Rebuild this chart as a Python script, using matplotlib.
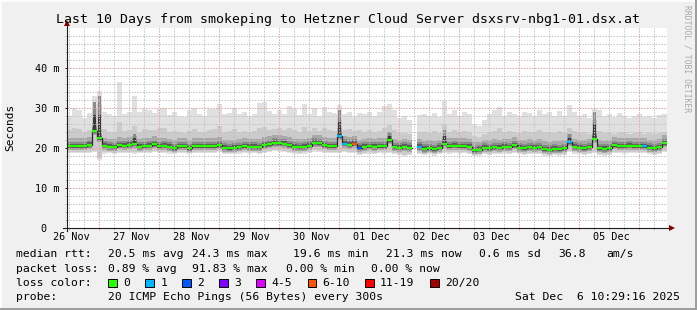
import numpy as np
import matplotlib
matplotlib.use("Agg")
import matplotlib.pyplot as plt
from matplotlib.patches import Rectangle
from matplotlib.lines import Line2D

W, H = 697, 310
MONO = "DejaVu Sans Mono"

title = "Last 10 Days from smokeping to Hetzner Cloud Server dsxsrv-nbg1-01.dsx.at"
y_label = "Seconds"
watermark = "RRDTOOL / TOBI OETIKER"

day_labels = ["26 Nov", "27 Nov", "28 Nov", "29 Nov", "30 Nov",
              "01 Dec", "02 Dec", "03 Dec", "04 Dec", "05 Dec"]
first_midnight_h = 12.9          # hours after graph start
y_ticks = [0, 10, 20, 30, 40]
y_tick_labels = ["0  ", "10 m", "20 m", "30 m", "40 m"]

BIN_H = 2.0   # hours per consolidated step

# median RTT (ms) per 2-hour step
median = [20.6, 20.5, 20.5, 20.6, 20.9, 24.3, 22.5, 20.7, 20.4, 20.3,
          20.8, 20.7, 20.9, 21.2, 20.4, 20.5, 20.7, 21.0, 20.6, 20.7,
          20.4, 20.1, 20.6, 20.6, 20.0, 20.6, 20.6, 20.5, 20.6, 20.6,
          20.8, 20.2, 20.1, 20.2, 20.3, 20.6, 20.4, 20.4, 20.3, 20.8,
          21.0, 21.4, 21.3, 21.2, 20.8, 20.4, 20.3, 20.4, 20.7, 21.4,
          21.3, 20.8, 20.6, 20.6, 23.1, 21.2, 20.9, 21.2, 20.2, 20.4,
          20.5, 20.4, 20.6, 20.6, 22.0, 20.3, 20.2, 20.4, 20.2, np.nan,
          20.4, 19.9, 20.1, 19.8, 20.2, 21.2, 20.6, 20.7, 20.5, 20.6,
          20.4, 19.6, 19.7, 20.2, 20.1, 20.3, 20.2, 20.4, 20.3, 20.8,
          20.2, 20.1, 20.3, 20.2, 20.3, 19.8, 19.7, 19.9, 19.8, 20.1,
          21.6, 20.4, 20.2, 20.1, 20.3, 22.4, 20.0, 19.9, 20.1, 20.8,
          20.6, 20.6, 20.7, 20.6, 20.6, 20.6, 20.2, 20.1, 20.3, 21.3]

# highest ping of each step (top of light smoke)
rtt_max = [28.1, 30.0, 29.5, 27.5, 28.7, 33.0, 34.2, 29.2, 28.5, 28.0,
           36.5, 28.5, 29.0, 33.0, 29.0, 29.8, 29.5, 28.8, 29.9, 30.0,
           28.3, 29.0, 28.2, 27.8, 29.5, 30.0, 28.6, 28.0, 29.7, 29.8,
           31.0, 28.6, 28.8, 30.0, 28.5, 29.0, 28.2, 28.6, 31.2, 31.5,
           29.2, 28.7, 29.5, 28.5, 30.5, 29.8, 28.2, 31.2, 28.5, 30.0,
           28.0, 30.2, 29.2, 28.8, 30.8, 28.5, 29.0, 28.0, 28.9, 28.5,
           29.2, 28.0, 29.0, 30.5, 31.0, 29.5, 27.5, 28.0, 27.0, np.nan,
           28.2, 28.5, 28.0, 28.8, 27.8, 31.7, 28.5, 29.5, 28.0, 29.0,
           28.5, 26.0, 25.5, 27.0, 28.5, 29.5, 30.4, 28.0, 29.0, 28.5,
           28.0, 29.0, 28.8, 28.2, 29.5, 28.5, 29.0, 28.2, 29.3, 28.0,
           30.8, 29.0, 28.0, 28.5, 27.5, 29.8, 29.5, 28.0, 28.5, 27.8,
           28.8, 28.2, 27.5, 28.0, 28.5, 27.8, 28.2, 27.5, 28.3, 28.7]

# upper edge of the denser (medium) smoke
rtt_upper = [24.5, 25.0, 24.8, 24.0, 24.5, 30.0, 31.0, 24.8, 24.2, 24.0,
             26.5, 24.3, 24.6, 25.5, 24.2, 24.8, 24.5, 24.6, 25.0, 25.2,
             24.0, 24.3, 24.2, 23.8, 24.4, 24.8, 24.2, 24.0, 24.6, 24.8,
             25.5, 24.2, 24.4, 24.8, 24.0, 24.3, 24.1, 24.4, 25.2, 25.4,
             24.6, 24.8, 25.0, 24.5, 25.2, 24.6, 24.2, 25.3, 24.4, 25.0,
             24.3, 25.0, 24.6, 24.4, 27.5, 24.6, 24.8, 24.3, 24.5, 24.2,
             24.5, 24.0, 24.4, 25.0, 25.8, 24.6, 23.8, 23.9, 23.5, np.nan,
             24.0, 24.2, 23.8, 24.3, 23.8, 26.0, 24.2, 24.6, 24.0, 24.4,
             24.2, 23.0, 22.8, 23.6, 24.0, 24.4, 25.0, 24.0, 24.3, 24.2,
             23.8, 24.3, 24.2, 24.0, 24.5, 24.0, 24.2, 23.8, 24.4, 24.0,
             25.2, 24.3, 23.9, 24.0, 23.6, 27.0, 24.4, 23.8, 24.0, 23.6,
             24.2, 24.0, 23.6, 23.8, 24.0, 23.6, 23.9, 23.5, 23.8, 24.2]

# lowest ping of each step (bottom of smoke)
rtt_min = [18.9, 18.8, 18.9, 18.8, 18.9, 19.0, 17.2, 18.7, 18.8, 18.6,
           18.9, 18.8, 18.9, 18.7, 18.8, 18.9, 18.9, 19.0, 18.8, 18.9,
           18.7, 18.6, 18.8, 18.9, 18.5, 18.8, 18.9, 18.8, 18.9, 18.8,
           19.0, 18.6, 18.5, 18.6, 18.7, 18.8, 18.7, 18.8, 18.6, 18.9,
           19.1, 19.3, 19.2, 19.0, 18.9, 18.7, 18.6, 18.7, 18.9, 19.2,
           19.1, 18.9, 18.8, 18.8, 18.9, 19.0, 18.9, 18.8, 18.4, 18.5,
           18.7, 18.6, 18.8, 18.7, 18.9, 18.5, 18.4, 18.0, 18.4, np.nan,
           18.6, 18.3, 18.5, 18.2, 18.5, 18.9, 18.7, 18.8, 18.7, 18.8,
           18.6, 18.1, 18.2, 18.5, 18.4, 18.6, 18.5, 18.7, 18.6, 18.9,
           18.5, 18.4, 18.6, 18.5, 18.6, 18.2, 18.1, 18.3, 18.2, 18.4,
           19.0, 18.7, 18.5, 18.4, 18.6, 18.8, 18.3, 18.2, 18.4, 18.9,
           18.8, 18.7, 18.9, 18.8, 18.8, 18.8, 18.5, 18.4, 18.6, 19.0]

# steps where the dense core of the smoke shoots up (index, top in ms)
burst_steps = [5, 6, 13, 54, 64, 75, 100, 105]
burst_tops = [31.5, 33.0, 23.5, 29.5, 24.0, 24.5, 23.5, 29.0]

# lost pings (of 20) per step
lost = [0] * 120
for i, n in zip([54, 55, 57, 58, 70, 100, 115], [1, 1, 7, 2, 1, 1, 1]):
    lost[i] = n

loss_labels = ["0", "1", "2", "3", "4-5", "6-10", "11-19", "20/20"]
loss_colors = ["#26ff00", "#00b8ff", "#0059ff", "#7e00ff",
               "#dd00ff", "#ff5500", "#ff0000", "#a10000"]
loss_upper = [0, 1, 2, 3, 5, 10, 19, 20]

legend_rows = [
    ["median rtt:", "20.5 ms avg", "24.3 ms max", "19.6 ms min",
     "21.3 ms now", "0.6 ms sd", "36.8", "am/s"],
    ["packet loss:", "0.89 % avg", "91.83 % max", "0.00 % min", "0.00 % now"],
]
probe_text = "20 ICMP Echo Pings (56 Bytes) every 300s"
stamp_text = "Sat Dec  6 10:29:16 2025"

# ---------------------------------------------------------------------------
BACK = "#f0f0f0"
fig = plt.figure(figsize=(W / 100, H / 100), dpi=100, facecolor=BACK)

def fx(px):
    return px / W

def fy(py):
    return 1 - py / H

X0, X1, Y0, Y1 = 67, 667, 28.3, 228.3
ax = fig.add_axes([fx(X0), fy(Y1), (X1 - X0) / W, (Y1 - Y0) / H])
ax.set_facecolor("white")
ax.set_xlim(0, 240)
ax.set_ylim(0, 50)
for s in ax.spines.values():
    s.set_visible(False)

med = np.array(median, float)
top = np.array(rtt_max, float)
upp = np.array(rtt_upper, float)
low = np.array(rtt_min, float)
t = np.arange(len(med)) * BIN_H
ok = ~np.isnan(med)

def band(b, tp, color, z):
    m = ok & ~np.isnan(b) & ~np.isnan(tp)
    ax.bar(t[m], (tp - b)[m], bottom=b[m], width=BIN_H, align="edge",
           color=color, linewidth=0, antialiased=False, zorder=z)

band(low, top, "#e0e0e0", 1)
band(low + 0.3, upp, "#cbcbcb", 1.1)
band(med - 1.0, med + 2.0, "#a8a8a8", 1.2)
band(med - 0.7, med + 1.1, "#8a8a8a", 1.25)
bt = np.array(burst_tops)
bi = np.array(burst_steps)
ax.bar(t[bi] + 0.4, bt - med[bi], bottom=med[bi], width=BIN_H - 0.8,
       align="edge", color="#8a8a8a", linewidth=0, antialiased=False,
       zorder=1.3)
band(med - 0.4, med + 0.6, "#5a5a5a", 1.4)
ax.bar(t[bi] + 0.4, (bt - med[bi]) * 0.55, bottom=med[bi], width=BIN_H - 0.8,
       align="edge", color="#3a3a3a", linewidth=0, antialiased=False,
       zorder=1.5)

# grid (rrdtool style dotted, painted over the smoke)
minor_c = "#c2c2c2"
major_c = "#e8a0a0"
major_h = first_midnight_h + 24 * np.arange(10)
minor_h = [h for h in np.arange(first_midnight_h - 12, 240, 6)
           if h > 0 and not np.any(np.isclose(h, major_h))]
DOT = (0, (1.4, 1.4))
for h in minor_h:
    ax.axvline(h, color=minor_c, lw=0.72, ls=DOT, zorder=2)
for h in major_h:
    ax.axvline(h, color=major_c, lw=0.72, ls=DOT, zorder=2.1)
for v in range(2, 50, 2):
    if v % 10:
        ax.axhline(v, color=minor_c, lw=0.72, ls=DOT, zorder=2)
for v in y_ticks[1:]:
    ax.axhline(v, color=major_c, lw=0.72, ls=DOT, zorder=2.1)

# median line coloured by loss
t_ext = np.append(t, 240)
m_ext = np.append(med, med[-1])
ax.step(t_ext, m_ext, where="post", color="#2a2a2a", lw=0.9, zorder=3)

def loss_color(n):
    for up, c in zip(loss_upper, loss_colors):
        if n <= up:
            return c
    return loss_colors[-1]

cols = [loss_color(n) for n in lost]
ax.hlines(med[ok], t[ok], t[ok] + BIN_H, colors=np.array(cols)[ok],
          lw=1.6, zorder=3.2)

# ticks
ax.set_yticks(y_ticks)
ax.set_yticklabels(y_tick_labels, fontfamily=MONO, fontsize=7.3)
ax.set_yticks(np.arange(0, 50, 2), minor=True)
ax.set_xticks(major_h)
ax.set_xticklabels([])
ax.set_xticks(minor_h, minor=True)
ax.tick_params(axis="both", which="major", direction="out", length=1.6,
               width=0.72, color=major_c, pad=3.6)
ax.tick_params(axis="both", which="minor", direction="out", length=1.2,
               width=0.72, color=minor_c)
ax.tick_params(axis="y", which="major", color="#1f1f1f")

for k, lab in enumerate(day_labels):
    ax.text(major_h[k] + 13 - 24, -0.046, lab, transform=ax.get_xaxis_transform(),
            ha="center", va="center", fontfamily=MONO, fontsize=7.3)

# axes with arrows
AX_C = "#1f1f1f"
ax.add_line(Line2D([-0.006, 1.006], [0, 0], transform=ax.transAxes,
                   color=AX_C, lw=0.8, clip_on=False, zorder=5))
ax.add_line(Line2D([0, 0], [-0.012, 1.015], transform=ax.transAxes,
                   color=AX_C, lw=0.8, clip_on=False, zorder=5))
ax.plot([1.0085], [0], marker=">", ms=4.2, color="#7f0000", mew=0,
        transform=ax.transAxes, clip_on=False, zorder=6)
ax.plot([0], [1.026], marker="^", ms=4.2, color="#7f0000", mew=0,
        transform=ax.transAxes, clip_on=False, zorder=6)

# texts
fig.text(fx(347.5), fy(19), title, ha="center", va="center",
         fontfamily=MONO, fontsize=9.5)
fig.text(fx(10), fy(127), y_label, rotation=90, ha="center", va="center",
         fontfamily=MONO, fontsize=8)
fig.text(fx(687), fy(5), watermark, rotation=270, ha="center", va="top",
         fontfamily=MONO, fontsize=5.8, color="#a8a8a8")

LF = 8.2
row_y = [254, 268.5, 283, 297.5]
row1_x = [15.6, 107.6, 192.4, 293.3, 385.8, 479, 557.8, 606.7]
row2_x = [15.6, 107.6, 192.4, 285.8, 371]
for xs, txts, yy in [(row1_x, legend_rows[0], row_y[0]),
                     (row2_x, legend_rows[1], row_y[1])]:
    for xx, s in zip(xs, txts):
        fig.text(fx(xx), fy(yy), s, ha="left", va="center",
                 fontfamily=MONO, fontsize=LF)

fig.text(fx(15.6), fy(row_y[2]), "loss color:", ha="left", va="center",
         fontfamily=MONO, fontsize=LF)
box_x = [108, 145.3, 182, 219, 256.4, 307.6, 365, 430]
for bx, lab, c in zip(box_x, loss_labels, loss_colors):
    fig.patches.append(Rectangle((fx(bx), fy(row_y[2] + 4.3)), 8.5 / W, 8.5 / H,
                                 transform=fig.transFigure, facecolor=c,
                                 edgecolor="black", lw=0.7))
    fig.text(fx(bx + 15), fy(row_y[2]), lab, ha="left", va="center",
             fontfamily=MONO, fontsize=LF)

fig.text(fx(15.6), fy(row_y[3]), "probe:", ha="left", va="center",
         fontfamily=MONO, fontsize=LF)
fig.text(fx(107.6), fy(row_y[3]), probe_text, ha="left", va="center",
         fontfamily=MONO, fontsize=LF)
fig.text(fx(680), fy(row_y[3]), stamp_text, ha="right", va="center",
         fontfamily=MONO, fontsize=LF)

# 3-D frame
fig.patches.append(Rectangle((0, 1 - 2 / H), 1, 2 / H, transform=fig.transFigure,
                             facecolor="#fcfcfc", lw=0))
fig.patches.append(Rectangle((0, 0), 2 / W, 1, transform=fig.transFigure,
                             facecolor="#fcfcfc", lw=0))
fig.patches.append(Rectangle((0, 0), 1, 2 / H, transform=fig.transFigure,
                             facecolor="#9e9e9e", lw=0))
fig.patches.append(Rectangle((1 - 2 / W, 0), 2 / W, 1, transform=fig.transFigure,
                             facecolor="#9e9e9e", lw=0))

fig.savefig("out.png", dpi=100, facecolor=BACK)
